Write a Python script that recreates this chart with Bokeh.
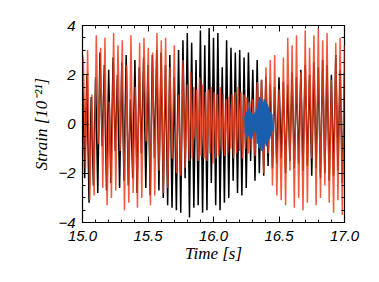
import numpy as np
from bokeh.plotting import figure
from bokeh.models import LinearAxis, SingleIntervalTicker, NumeralTickFormatter, Range1d, CustomJSTickFormatter
from bokeh.embed import file_html
from bokeh.resources import INLINE

# ---- data ----
black_vals = [2.8,-2.2,2.0,-3.2,1.1,-2.5,1.9,-2.8,2.9,-0.9,2.4,-2.7,2.2,-2.4,2.7,-1.1,2.0,-2.6,2.5,-2.3,
              2.8,-2.5,1.0,-2.2,2.6,-2.8,2.3,-1.2,2.7,-2.6,2.4,-2.9,2.8,-1.4,3.0,-2.7,2.9,
              -3.0,2.4,-3.3,2.8,-3.4,1.9,-3.5,3.0,-3.6,3.4,-2.2,3.7,-3.8,3.3,-3.4,2.6,-3.3,3.8,-3.6,3.2,
              -3.5,3.9,-2.4,3.5,-3.3,3.7,-3.5,2.3,-3.2,3.4,-3.0,3.1,-2.3,2.9,-2.8,
              3.0,-2.9,2.7,-2.6,2.9,-1.5,2.2,-2.3,2.6,-2.0,1.8,-2.1,1.9,-1.7,1.6,
              -1.8,1.5,-1.6,1.9,-1.4,1.7,-2.0,1.6,-1.5,2.1,-1.8,1.9,-1.6,2.2,-1.9,2.4,-1.7,2.0,-2.1,2.5,
              -1.8,2.3,-2.2,2.6,-2.0,2.4,-2.3,2.0,-2.1,2.8,-1.9,2.2,-2.4,2.1]
# red trace in three parts: early (15.0-15.8), dense middle (15.8-16.3), late (16.3-17.0)
red_early = [2.7,-1.8,3.0,-3.1,1.2,-2.9,3.6,-0.8,3.1,-2.6,3.5,-3.3,0.9,-3.0,3.7,-2.7,3.2,-1.1,3.4,-3.5,
             2.4,-3.2,3.6,-2.8,1.5,-3.4,3.3,-3.0,3.5,-0.7,3.1,-3.3,2.9,-2.9,3.7,-1.9,3.4,
             -2.8,3.5,-2.6,2.3,-1.4,3.2,-2.0,1.2,-2.1,2.6,-1.8,1.6]
red_mid = [-1.5,2.1,-1.4,1.5,-0.6,1.4,-1.5,1.9,-1.3,1.6,-1.4,1.3,-1.5,1.4,-1.2,1.5,-1.6,1.3,-1.4,1.2,
           -1.3,1.5,-1.1,1.2,-1.3,1.0,-1.2,1.1,-1.0,1.2,-1.4,1.3,-1.2,1.5,-1.1,1.3,-1.4,1.2,-1.0,1.1,
           -1.2,0.9,-1.1,1.0]
red_late = [-1.3,1.7,-0.9,1.8,-2.0,2.3,-1.2,2.6,-2.5,2.8,-2.9,1.4,-3.1,2.7,-3.3,3.5,-1.9,3.2,-3.4,3.6,
            -3.0,2.1,-3.5,3.8,-3.2,3.1,-1.4,3.6,-3.3,3.9,-3.0,3.4,-2.5,3.7,-3.2,1.8,-3.6,3.3,-3.1,3.5,
            -3.7,3.2]
red_spans = [(15.006, 15.80), (15.815, 16.30), (16.317, 17.0)]
blue_vals = [0.3,-0.4,0.5,-0.6,0.6,-0.5,0.7,-0.6,0.5,-0.6,0.4,-0.5,0.4,-0.3,0.5,-0.4,
             0.6,-0.8,0.9,-1.0,1.1,-0.9,1.0,-1.1,0.9,-1.0,1.0,-0.8,0.9,-0.9,0.8,-0.7,
             0.7,-0.6,0.5,-0.5,0.4,-0.3]
blue_span = (16.24, 16.45)

black_t = np.linspace(15.0, 17.0, len(black_vals))
red_parts = [red_early, red_mid, red_late]
red_t = np.concatenate([np.linspace(a, b, len(v)) for (a, b), v in zip(red_spans, red_parts)])
red_vals = red_early + red_mid + red_late
blue_t = np.linspace(blue_span[0], blue_span[1], len(blue_vals))

x_ticks_interval = 0.5
y_ticks_interval = 2

p = figure(width=370, height=270, output_backend="svg", toolbar_location=None,
           x_range=Range1d(15.0, 17.0), y_range=Range1d(-4, 4),
           min_border_left=82, min_border_right=26, min_border_top=25, min_border_bottom=48)
p.background_fill_color = "white"
p.border_fill_color = "white"
p.grid.visible = False
p.outline_line_color = "black"
p.outline_line_width = 1.2

p.line(black_t, black_vals, line_color="black", line_width=1.5)
p.line(red_t, red_vals, line_color="#ee3d1c", line_width=1.5, line_alpha=0.85)
p.line(blue_t, blue_vals, line_color="#1a5fae", line_width=1.8)

def style(ax, labels=True):
    ax.major_tick_in = 6
    ax.major_tick_out = 0
    ax.minor_tick_in = 3
    ax.minor_tick_out = 0
    ax.axis_line_color = None
    ax.major_tick_line_color = "black"
    ax.minor_tick_line_color = "black"
    if labels:
        ax.major_label_text_font = "Liberation Sans"
        ax.major_label_text_font_style = "italic"
        ax.major_label_text_font_size = "15px"
        ax.major_label_text_color = "black"
    else:
        ax.formatter = CustomJSTickFormatter(code="return ''")

p.xaxis.ticker = SingleIntervalTicker(interval=x_ticks_interval, num_minor_ticks=5)
p.yaxis.ticker = SingleIntervalTicker(interval=y_ticks_interval, num_minor_ticks=4)
p.xaxis.formatter = NumeralTickFormatter(format="0.0")
style(p.xaxis[0])
style(p.yaxis[0])
p.xaxis.major_label_standoff = 8
p.yaxis.major_label_standoff = 7
p.xaxis.axis_label = "Time [s]"
p.yaxis.axis_label = "Strain [10⁻²¹]"
for ax in (p.xaxis[0], p.yaxis[0]):
    ax.axis_label_text_font = "Liberation Serif"
    ax.axis_label_text_font_style = "italic"
    ax.axis_label_text_font_size = "17px"
    ax.axis_label_text_color = "black"
p.xaxis.axis_label_standoff = 0
p.yaxis.axis_label_standoff = 4

top = LinearAxis(ticker=SingleIntervalTicker(interval=x_ticks_interval, num_minor_ticks=5))
style(top, labels=False)
p.add_layout(top, "above")
right = LinearAxis(ticker=SingleIntervalTicker(interval=y_ticks_interval, num_minor_ticks=4))
style(right, labels=False)
p.add_layout(right, "right")

open("out.html", "w").write(file_html(p, INLINE))
